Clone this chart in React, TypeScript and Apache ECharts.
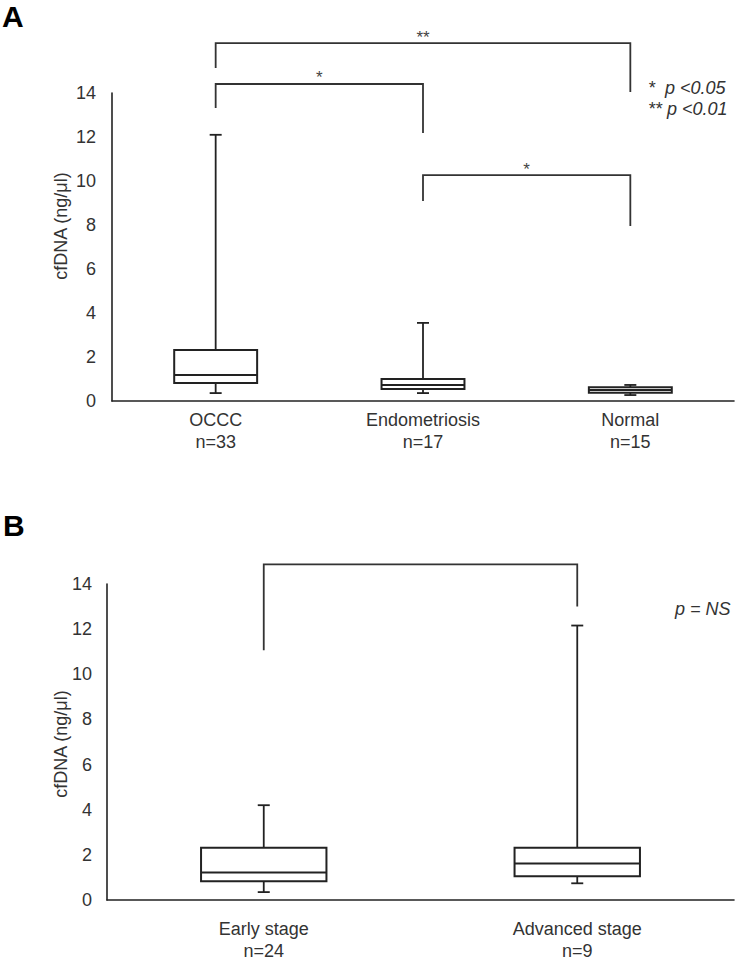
import React, { useEffect, useRef } from "react";
import * as echarts from "echarts";

const FONT = '"Liberation Sans", Arial, Helvetica, sans-serif';

// Panel A
const categoriesA = ["OCCC\nn=33", "Endometriosis\nn=17", "Normal\nn=15"];
// [min, Q1, median, Q3, max]
const boxesA = [
  [0.36, 0.82, 1.18, 2.32, 12.1],
  [0.36, 0.55, 0.73, 1.0, 3.55],
  [0.27, 0.38, 0.5, 0.62, 0.73],
];
// [fromIndex, toIndex, barY, leftEndY, rightEndY]
const bracketsA = [
  [0, 2, 16.27, 15.14, 14.05],
  [0, 1, 14.41, 13.32, 12.18],
  [1, 2, 10.27, 9.09, 7.95],
];
const bracketLabelsA = ["**", "*", "*"];

// Panel B
const categoriesB = ["Early stage\nn=24", "Advanced stage\nn=9"];
const boxesB = [
  [0.35, 0.83, 1.22, 2.32, 4.2],
  [0.74, 1.05, 1.62, 2.32, 12.16],
];
const bracketsB = [[0, 1, 14.87, 11.07, 13.0]];
const bracketLabelsB = [""];

const yTicksMin = 0;
const yTicksMax = 14;
const yTicksStep = 2;

const LINE = "#222";

function boxRender(params: any, api: any) {
  const i = api.value(0);
  const pMin = api.coord([i, api.value(1)]);
  const pQ1 = api.coord([i, api.value(2)]);
  const pMed = api.coord([i, api.value(3)]);
  const pQ3 = api.coord([i, api.value(4)]);
  const pMax = api.coord([i, api.value(5)]);
  const cx = pMin[0];
  const bw = api.size([1, 0])[0] * 0.4;
  const cap = 6;
  const st = { stroke: LINE, lineWidth: 1.8, fill: null };
  return {
    type: "group",
    children: [
      { type: "line", shape: { x1: cx, y1: pQ3[1], x2: cx, y2: pMax[1] }, style: st },
      { type: "line", shape: { x1: cx - cap, y1: pMax[1], x2: cx + cap, y2: pMax[1] }, style: st },
      { type: "line", shape: { x1: cx, y1: pQ1[1], x2: cx, y2: pMin[1] }, style: st },
      { type: "line", shape: { x1: cx - cap, y1: pMin[1], x2: cx + cap, y2: pMin[1] }, style: st },
      {
        type: "rect",
        shape: { x: cx - bw / 2, y: pQ3[1], width: bw, height: pQ1[1] - pQ3[1] },
        style: { stroke: LINE, lineWidth: 2, fill: "#fff" },
      },
      { type: "line", shape: { x1: cx - bw / 2, y1: pMed[1], x2: cx + bw / 2, y2: pMed[1] }, style: { stroke: LINE, lineWidth: 2 } },
    ],
  };
}

function makeBracketRender(labels: string[]) {
  return function (params: any, api: any) {
    const a = api.value(0);
    const b = api.value(1);
    const pTopL = api.coord([a, api.value(2)]);
    const pTopR = api.coord([b, api.value(2)]);
    const pL = api.coord([a, api.value(3)]);
    const pR = api.coord([b, api.value(4)]);
    const st = { stroke: "#333", lineWidth: 1.8, fill: null };
    const children: any[] = [
      {
        type: "polyline",
        shape: { points: [[pL[0], pL[1]], [pTopL[0], pTopL[1]], [pTopR[0], pTopR[1]], [pR[0], pR[1]]] },
        style: st,
      },
    ];
    const lab = labels[params.dataIndex];
    if (lab) {
      children.push({
        type: "text",
        x: (pTopL[0] + pTopR[0]) / 2,
        y: pTopL[1] - 6,
        style: {
          text: lab,
          fill: "#444",
          font: `17px ${FONT}`,
          align: "center",
          verticalAlign: "middle",
        },
      });
    }
    return { type: "group", children };
  };
}

function xAxisCfg(gridIndex: number, data: string[], margin: number) {
  return {
    gridIndex,
    type: "category",
    data,
    axisLine: { show: true, lineStyle: { color: LINE, width: 1.6 } },
    axisTick: { show: false },
    splitLine: { show: false },
    axisLabel: {
      interval: 0,
      color: "#333",
      fontSize: 18,
      lineHeight: 22,
      margin,
      fontFamily: FONT,
    },
  };
}

function yAxisCfg(gridIndex: number, margin: number) {
  return {
    gridIndex,
    type: "value",
    min: yTicksMin,
    max: yTicksMax,
    interval: yTicksStep,
    axisLine: { show: true, lineStyle: { color: LINE, width: 1.6 } },
    axisTick: { show: false },
    splitLine: { show: false },
    axisLabel: { color: "#333", fontSize: 18, margin, fontFamily: FONT },
  };
}

export default function App() {
  const ref = useRef<HTMLDivElement>(null);
  useEffect(() => {
    if (!ref.current) return;
    const chart = echarts.init(ref.current, null, { renderer: "svg" });
    const option: any = {
      animation: false,
      backgroundColor: "#fff",
      grid: [
        { left: 112, right: 5, top: 93, height: 308 },
        { left: 107, right: 5, top: 584, height: 320 },
      ],
      xAxis: [xAxisCfg(0, categoriesA, 8), xAxisCfg(1, categoriesB, 18)],
      yAxis: [yAxisCfg(0, 16), yAxisCfg(1, 15)],
      series: [
        {
          type: "custom",
          xAxisIndex: 0,
          yAxisIndex: 0,
          clip: false,
          renderItem: boxRender,
          encode: { x: 0, y: [1, 2, 3, 4, 5] },
          data: boxesA.map((v, i) => [i, ...v]),
        },
        {
          type: "custom",
          xAxisIndex: 0,
          yAxisIndex: 0,
          clip: false,
          renderItem: makeBracketRender(bracketLabelsA),
          encode: { x: [0, 1], y: [2, 3, 4] },
          data: bracketsA,
        },
        {
          type: "custom",
          xAxisIndex: 1,
          yAxisIndex: 1,
          clip: false,
          renderItem: boxRender,
          encode: { x: 0, y: [1, 2, 3, 4, 5] },
          data: boxesB.map((v, i) => [i, ...v]),
        },
        {
          type: "custom",
          xAxisIndex: 1,
          yAxisIndex: 1,
          clip: false,
          renderItem: makeBracketRender(bracketLabelsB),
          encode: { x: [0, 1], y: [2, 3, 4] },
          data: bracketsB,
        },
      ],
      graphic: [
        { type: "text", left: 2, top: 1, style: { text: "A", font: `bold 30px ${FONT}`, fill: "#000" } },
        { type: "text", left: 3, top: 510, style: { text: "B", font: `bold 30px ${FONT}`, fill: "#000" } },
        {
          type: "text",
          x: 61,
          y: 226,
          rotation: Math.PI / 2,
          style: { text: "cfDNA (ng/μl)", font: `18px ${FONT}`, fill: "#333", align: "center", verticalAlign: "middle" },
        },
        {
          type: "text",
          x: 61,
          y: 744,
          rotation: Math.PI / 2,
          style: { text: "cfDNA (ng/μl)", font: `18px ${FONT}`, fill: "#333", align: "center", verticalAlign: "middle" },
        },
        {
          type: "text",
          x: 648,
          y: 88,
          style: { text: "*  p <0.05", font: `italic 18px ${FONT}`, fill: "#333", align: "left", verticalAlign: "middle" },
        },
        {
          type: "text",
          x: 648,
          y: 109,
          style: { text: "** p <0.01", font: `italic 18px ${FONT}`, fill: "#333", align: "left", verticalAlign: "middle" },
        },
        {
          type: "text",
          x: 675,
          y: 609,
          style: { text: "p = NS", font: `italic 18px ${FONT}`, fill: "#333", align: "left", verticalAlign: "middle" },
        },
      ],
    };
    chart.setOption(option);
    return () => chart.dispose();
  }, []);
  return (
    <div
      ref={ref}
      style={{ position: "fixed", left: 0, top: 0, width: 739, height: 962, background: "#fff" }}
    />
  );
}
